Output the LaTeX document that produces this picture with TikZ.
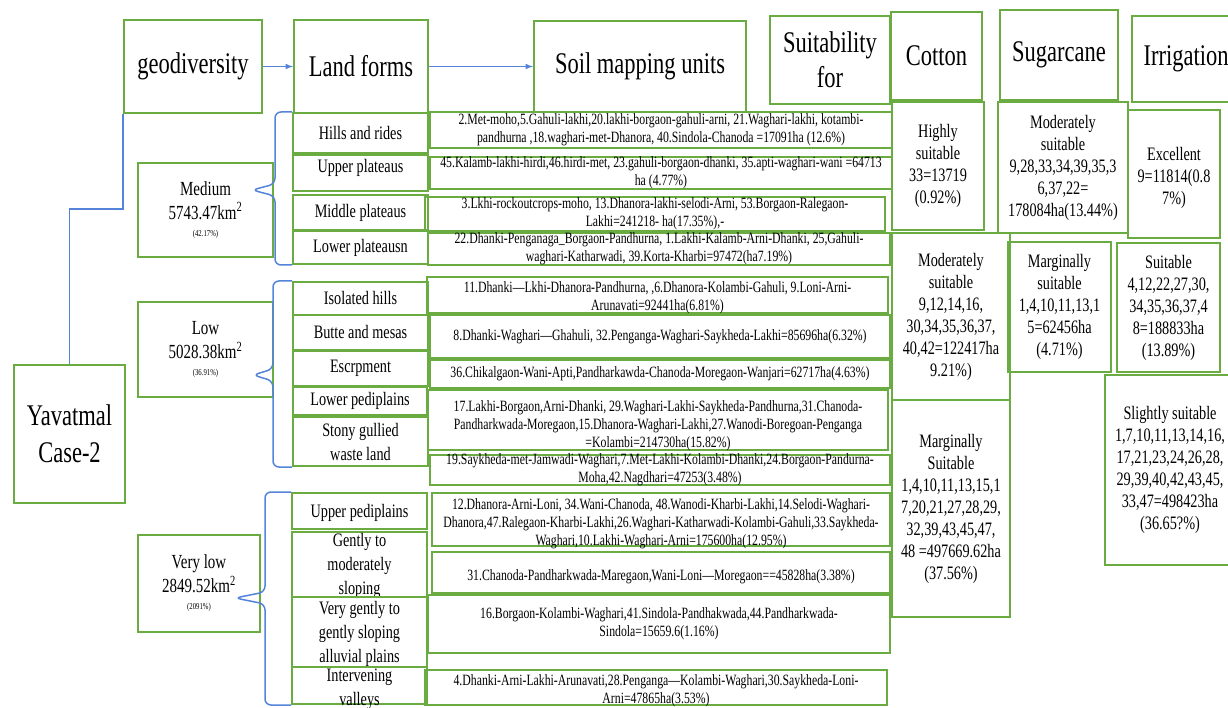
\documentclass[tikz,border=0pt]{standalone}
\usepackage{fontspec}
\setmainfont{Liberation Serif}[FakeStretch=0.75]
\usetikzlibrary{positioning}

\definecolor{boxgreen}{RGB}{106,172,66}
\definecolor{linkblue}{RGB}{84,132,218}

\tikzset{
  gbox/.style={draw=boxgreen, line width=2pt, inner sep=0pt, align=center},
  headbox/.style={gbox, font=\fontsize{30}{35}\selectfont},
  formbox/.style={gbox, minimum width=135, font=\fontsize{19}{24}\selectfont},
  unitbox/.style={gbox, inner ysep=-3pt, font=\fontsize{15.7}{18}\selectfont},
  cropbox/.style={gbox, font=\fontsize{19}{22}\selectfont},
  link/.style={draw=linkblue, line width=1.5pt},
  bracket/.style={link, rounded corners=6pt}
}

\begin{document}
\begin{tikzpicture}[x=1pt, y=1pt]
        \useasboundingbox (0,0) rectangle (1228,-708);

        % header row
        \node[headbox, minimum width=138, minimum height=93] (geo) at (193,-66.5) {geodiversity};
        \node[headbox, minimum width=134, minimum height=93, right=30pt of geo] (land) {Land forms};
        \node[headbox, minimum width=212, minimum height=91, right=104pt of land] (smu) {Soil mapping units};
        \node[headbox, minimum width=120, minimum height=88] (suit) at (830,-60) {Suitability\\for};
        \node[headbox, minimum width=91, minimum height=88] (cotton) at (936.5,-56) {Cotton};
        \node[headbox, minimum width=118, minimum height=90] (sugar) at (1059,-55) {Sugarcane};
        \node[headbox, minimum width=108, minimum height=86] (irrig) at (1186,-59) {Irrigation};

        % relief classes
        \node[gbox, minimum width=111, minimum height=138, font=\fontsize{30}{37}\selectfont] (yav) at (69.5,-434) {Yavatmal\\Case-2};
        \node[formbox, minimum height=94, font=\fontsize{20}{24}\selectfont] (med) at (205.5,-210) {Medium\\5743.47km\textsuperscript{2}\\[-7pt]\fontsize{9}{10}\selectfont(42.17\%)};
        \node[formbox, minimum height=95, font=\fontsize{20}{24}\selectfont] (low) at (205.5,-349.5) {Low\\5028.38km\textsuperscript{2}\\[-7pt]\fontsize{9}{10}\selectfont(36.91\%)};
        \node[formbox, minimum width=122, minimum height=97, font=\fontsize{20}{24}\selectfont] (vlow) at (199,-583.5) {Very low\\2849.52km\textsuperscript{2}\\[-7pt]\fontsize{9}{10}\selectfont(2091\%)};

        % land forms
        \node[formbox, minimum height=40] (hills) at (360.5,-133) {Hills and rides};
        \node[formbox, minimum height=36, text depth=14pt] (upper) at (360.5,-173) {Upper plateaus};
        \node[formbox, minimum height=35] (midpl) at (360.5,-212.5) {Middle plateaus};
        \node[formbox, minimum height=33] (lowpl) at (360.5,-247.5) {Lower plateausn};
        \node[formbox, minimum height=33] (iso) at (360.5,-298.5) {Isolated hills};
        \node[formbox, minimum height=35] (butte) at (360.5,-332.5) {Butte and mesas};
        \node[formbox, minimum height=35] (escr) at (360.5,-368.5) {Escrpment};
        \node[formbox, minimum width=134, minimum height=28] (lped) at (360,-401) {Lower pediplains};
        \node[formbox, minimum height=49] (stony) at (360.5,-441.5) {Stony gullied\\waste land};
        \node[formbox, minimum height=36] (uped) at (359.5,-511) {\rule{0pt}{17pt}Upper pediplains};
        \node[formbox, minimum height=65, inner ysep=-4pt] (gently) at (359.5,-564.5) {\rule{0pt}{17pt}Gently to\\moderately\\sloping};
        \node[formbox, minimum height=70, inner ysep=-4pt] (vgently) at (359.5,-632) {\rule{0pt}{17pt}Very gently to\\gently sloping\\alluvial plains};
        \node[formbox, minimum height=37, inner ysep=-8pt] (valley) at (359.5,-685.5) {\rule{0pt}{20pt}Intervening\\valleys};

        % soil mapping units
        \node[unitbox, minimum width=462, minimum height=36] (u1) at (661,-130) {2.Met-moho,5.Gahuli-lakhi,20.lakhi-borgaon-gahuli-arni, 21.Waghari-lakhi, kotambi-\\pandhurna ,18.waghari-met-Dhanora, 40.Sindola-Chanoda =17091ha (12.6\%)};
        \node[unitbox, minimum width=462, minimum height=32] (u2) at (661,-173) {45.Kalamb-lakhi-hirdi,46.hirdi-met, 23.gahuli-borgaon-dhanki, 35.apti-waghari-wani =64713\\ha (4.77\%)};
        \node[unitbox, minimum width=460, minimum height=34] (u3) at (655,-214) {3.Lkhi-rockoutcrops-moho, 13.Dhanora-lakhi-selodi-Arni, 53.Borgaon-Ralegaon-\\Lakhi=241218- ha(17.35\%),-};
        \node[unitbox, minimum width=462, minimum height=32] (u4) at (659,-249) {22.Dhanki-Penganaga\_Borgaon-Pandhurna, 1.Lakhi-Kalamb-Arni-Dhanki, 25,Gahuli-\\waghari-Katharwadi, 39.Korta-Kharbi=97472(ha7.19\%)};
        \node[unitbox, minimum width=461, minimum height=36] (u5) at (657.5,-295) {\rule{0pt}{16pt}11.Dhanki—Lkhi-Dhanora-Pandhurna, ,6.Dhanora-Kolambi-Gahuli, 9.Loni-Arni-\\Arunavati=92441ha(6.81\%)};
        \node[unitbox, minimum width=460, minimum height=43] (u6) at (660,-336.5) {8.Dhanki-Waghari—Ghahuli, 32.Penganga-Waghari-Saykheda-Lakhi=85696ha(6.32\%)};
        \node[unitbox, minimum width=460, minimum height=28] (u7) at (660,-374) {36.Chikalgaon-Wani-Apti,Pandharkawda-Chanoda-Moregaon-Wanjari=62717ha(4.63\%)};
        \node[unitbox, minimum width=460, minimum height=60] (u8) at (658,-420) {\rule{0pt}{23pt}17.Lakhi-Borgaon,Arni-Dhanki, 29.Waghari-Lakhi-Saykheda-Pandhurna,31.Chanoda-\\Pandharkwada-Moregaon,15.Dhanora-Waghari-Lakhi,27.Wanodi-Boregoan-Penganga\\=Kolambi=214730ha(15.82\%)};
        \node[unitbox, minimum width=460, minimum height=30, inner ysep=-4pt] (u9) at (660,-470) {19.Saykheda-met-Jamwadi-Waghari,7.Met-Lakhi-Kolambi-Dhanki,24.Borgaon-Pandurna-\\Moha,42.Nagdhari=47253(3.48\%)};
        \node[unitbox, minimum width=458, minimum height=53] (u10) at (661,-519.5) {\rule{0pt}{19pt}12.Dhanora-Arni-Loni, 34.Wani-Chanoda, 48.Wanodi-Kharbi-Lakhi,14.Selodi-Waghari-\\Dhanora,47.Ralegaon-Kharbi-Lakhi,26.Waghari-Katharwadi-Kolambi-Gahuli,33.Saykheda-\\Waghari,10.Lakhi-Waghari-Arni=175600ha(12.95\%)};
        \node[unitbox, minimum width=458, minimum height=41] (u11) at (661,-572.5) {\rule{0pt}{20pt}31.Chanoda-Pandharkwada-Maregaon,Wani-Loni—Moregaon==45828ha(3.38\%)};
        \node[unitbox, minimum width=462, minimum height=58] (u12) at (659,-624) {16.Borgaon-Kolambi-Waghari,41.Sindola-Pandhakwada,44.Pandharkwada-\\Sindola=15659.6(1.16\%)};
        \node[unitbox, minimum width=462, minimum height=35] (u13) at (656,-687.5) {\rule{0pt}{18pt}4.Dhanki-Arni-Lakhi-Arunavati,28.Penganga—Kolambi-Waghari,30.Saykheda-Loni-\\Arni=47865ha(3.53\%)};

        % suitability
        \node[cropbox, minimum width=92, minimum height=128] (cot1) at (938,-166) {Highly\\suitable\\33=13719\\(0.92\%)};
        \node[cropbox, minimum width=118, minimum height=167] (cot2) at (951,-316.5) {Moderately\\suitable\\9,12,14,16,\\30,34,35,36,37,\\40,42=122417ha\\9.21\%)};
        \node[cropbox, minimum width=118, minimum height=217] (cot3) at (951,-508.5) {Marginally\\Suitable\\1,4,10,11,13,15,1\\7,20,21,27,28,29,\\32,39,43,45,47,\\48 =497669.62ha\\(37.56\%)};
        \node[cropbox, minimum width=130, minimum height=131] (sug1) at (1063,-167.5) {Moderately\\suitable\\9,28,33,34,39,35,3\\6,37,22=\\178084ha(13.44\%)};
        \node[cropbox, minimum width=103, minimum height=130] (sug2) at (1059.5,-307) {Marginally\\suitable\\1,4,10,11,13,1\\5=62456ha\\(4.71\%)};
        \node[cropbox, minimum width=92, minimum height=128] (irr1) at (1174,-174) {\rule{0pt}{22pt}Excellent\\9=11814(0.8\\7\%)};
        \node[cropbox, minimum width=103, minimum height=129] (irr2) at (1168.5,-307.5) {Suitable\\4,12,22,27,30,\\34,35,36,37,4\\8=188833ha\\(13.89\%)};
        \node[cropbox, minimum width=130, minimum height=190] (irr3) at (1170,-470) {Slightly suitable\\1,7,10,11,13,14,16,\\17,21,23,24,26,28,\\29,39,40,42,43,45,\\33,47=498423ha\\(36.65?\%)};

        % connectors
        \draw[link, -latex] (geo) -- (land);
        \draw[link, -latex] (land) -- (smu);
        \draw[link] (yav.north) -- ++(0,155) -| (geo.south west);

        \coordinate (medtip) at (252,-190);
        \draw[bracket] (hills.north west) -| (275,-184) -- (medtip) -- (275,-196) |- (lowpl.south west);
        \coordinate (lowtip) at (253,-375);
        \draw[bracket] (iso.north west) -| (273,-369) -- (lowtip) -- (273,-381) |- (stony.south west);
        \coordinate (vlowtip) at (235,-598);
        \draw[bracket] (uped.north west) -| (265,-592) -- (vlowtip) -- (265,-604) |- (valley.south west);
\end{tikzpicture}
\end{document}
